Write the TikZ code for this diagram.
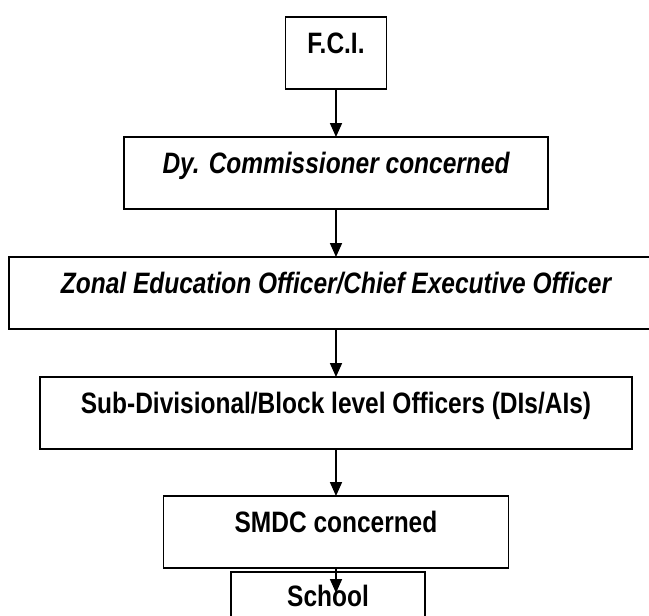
\documentclass[tikz,border=0pt]{standalone}
\usepackage{fontspec}
\setmainfont{Liberation Sans}[FakeStretch=0.83]
\usepackage{tikz}
\usetikzlibrary{positioning,arrows.meta}

\begin{document}
\begin{tikzpicture}[
    x=1pt, y=1pt,
    node distance=48pt,
    box/.style={rectangle, draw, line width=1.2pt, inner sep=0pt, outer sep=0pt, text height=36pt, text depth=36pt, font=\fontsize{29.5}{31}\selectfont\bfseries},
    flow/.style={-{Triangle[width=12pt,length=14pt]}, line width=1.7pt}
]
\useasboundingbox (-336,53) rectangle (313,-563);
\clip (-336,53) rectangle (313,-563);

% Chain of offices
\node[box, minimum width=101pt] (fci) {F.C.I.};
\node[box, minimum width=424pt, below=of fci] (dycomm) {\itshape Dy. Commissioner concerned};
\node[box, minimum width=654pt, below=of dycomm] (zonal) {\itshape Zonal Education Officer/Chief Executive Officer};
\node[box, minimum width=592pt, below=of zonal] (subdiv) {Sub-Divisional/Block level Officers (DIs/AIs)};
\node[box, minimum width=345pt, below=47pt of subdiv] (smdc) {SMDC concerned};
\node[box, minimum width=194pt, text height=34pt, below=4pt of smdc, xshift=-8pt] (school) {School};

% Arrow end inside the school box
\coordinate (schooltip) at ([yshift=-25pt]smdc.south);

% Arrows
\draw[flow] (fci) -- (dycomm);
\draw[flow] (dycomm) -- (zonal);
\draw[flow] (zonal) -- (subdiv);
\draw[flow] (subdiv) -- (smdc);
\draw[flow] (smdc.south) -- (schooltip);

\end{tikzpicture}
\end{document}
